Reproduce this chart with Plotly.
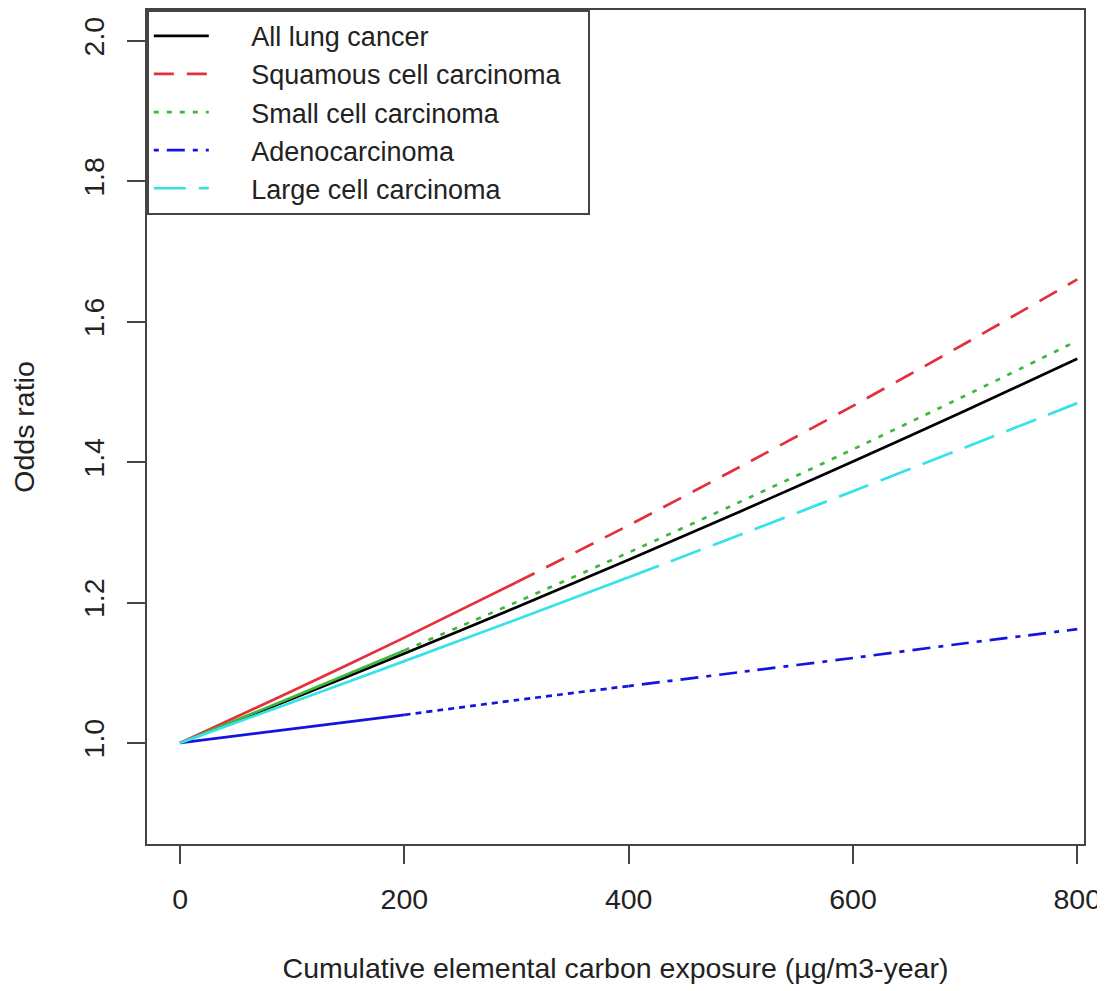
import plotly.graph_objects as go

exposure = [0, 100, 200, 300, 400, 500, 600, 700, 800]
all_lung = [1.0, 1.0628, 1.1272, 1.1932, 1.2608, 1.3300, 1.4008, 1.4732, 1.5472]
squamous = [1.0, 1.0738, 1.1500, 1.2288, 1.3100, 1.3939, 1.4801, 1.5689, 1.6603]
small_cell = [1.0, 1.0650, 1.1318, 1.2006, 1.2712, 1.3438, 1.4182, 1.4946, 1.5728]
adeno = [1.0, 1.020, 1.040, 1.061, 1.081, 1.101, 1.121, 1.142, 1.162]
large_cell = [1.0, 1.0579, 1.1165, 1.1759, 1.2360, 1.2969, 1.3585, 1.4209, 1.4840]

x_ticks = [0, 200, 400, 600, 800]
y_ticks = [1.0, 1.2, 1.4, 1.6, 1.8, 2.0]

FONT = "Liberation Sans, Arial, Helvetica, sans-serif"
FS = 28.5
LFS = 27
W = 2.7
NB = "\u00a0"

# (name, values, color, [(start_idx, end_idx, dash), ...], legend dash)
series = [
    ("All lung cancer", all_lung, "#000000", [(0, 8, "solid")], "solid"),
    ("Squamous cell carcinoma", squamous, "#E3303C", [(0, 3, "solid"), (3, 8, "20px,13px")], "20px,13px"),
    ("Small cell carcinoma", small_cell, "#3DB83D", [(0, 2, "solid"), (2, 8, "5px,8px")], "5px,8px"),
    ("Adenocarcinoma", adeno, "#1414E0", [(0, 2, "solid"), (2, 4, "6px,5px"), (4, 8, "5px,8px,18px,8px")], "5px,8px,18px,8px"),
    ("Large cell carcinoma", large_cell, "#36E2E8", [(0, 4, "solid"), (4, 8, "32px,13px")], "32px,13px"),
]

fig = go.Figure()
for rank, (name, vals, color, parts, ldash) in enumerate(series):
    for (a, b, dash) in parts:
        fig.add_trace(go.Scatter(
            x=exposure[a:b + 1], y=vals[a:b + 1], mode="lines",
            line=dict(color=color, width=W, dash=dash, shape="spline", smoothing=0.6),
            showlegend=False, hoverinfo="skip", legendgroup=name,
        ))
    fig.add_trace(go.Scatter(
        x=[None], y=[None], mode="lines", name=NB * 5 + name + NB * 3,
        line=dict(color=color, width=W, dash=ldash),
        showlegend=True, legendgroup=name, legendrank=rank + 1,
    ))

axis_common = dict(
    showgrid=False, zeroline=False, showline=True, mirror=True,
    linecolor="#444444", linewidth=1.8, ticks="outside", ticklen=18,
    tickwidth=1.5, tickcolor="#444444",
    tickfont=dict(family=FONT, size=FS, color="#222222"),
)

# page body has an 8px margin: figure is drawn from (8, 8)
fig.update_layout(
    width=1097, height=983,
    paper_bgcolor="white", plot_bgcolor="white",
    margin=dict(l=139, r=21, t=2, b=147, autoexpand=False),
    font=dict(family=FONT, size=FS, color="#222222"),
    xaxis=dict(
        range=[-29.5, 806], tickvals=x_ticks, ticktext=[str(v) for v in x_ticks],
        title=dict(text="Cumulative elemental carbon exposure (µg/m3-year)",
                   font=dict(family=FONT, size=FS, color="#222222"), standoff=44),
        ticklabelstandoff=11, automargin=False,
        **axis_common,
    ),
    yaxis=dict(
        range=[0.856, 2.044], tickvals=y_ticks, ticktext=[f"{v:.1f}" for v in y_ticks],
        tickangle=-90,
        title=dict(text="Odds ratio", font=dict(family=FONT, size=FS, color="#222222"), standoff=36),
        ticklabelstandoff=12, automargin=False,
        **axis_common,
    ),
    legend=dict(
        x=0, y=1, xanchor="left", yanchor="top",
        bordercolor="#444444", borderwidth=1.8, bgcolor="white",
        font=dict(family=FONT, size=LFS, color="#222222"),
        itemwidth=55, tracegroupgap=0, traceorder="normal",
    ),
)

fig.write_html("out.html")
